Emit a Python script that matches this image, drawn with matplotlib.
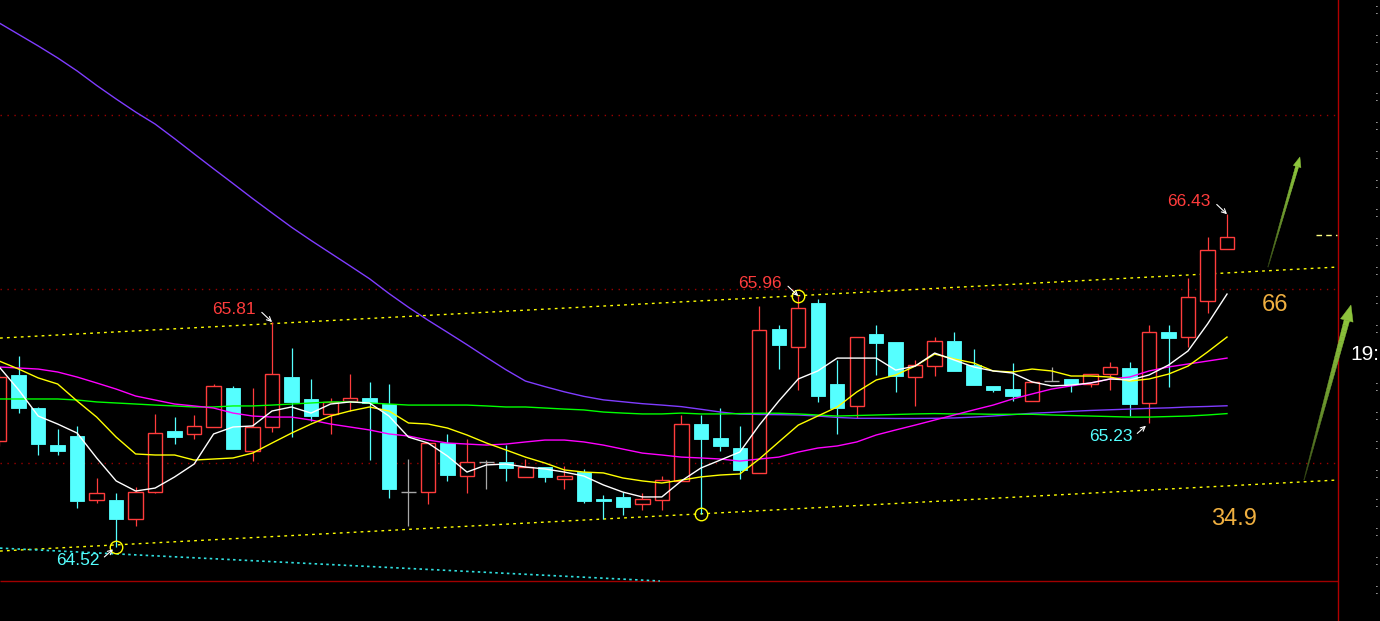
import numpy as np
import matplotlib

matplotlib.use("Agg")
from matplotlib import pyplot as plt
from matplotlib import colors as mcolors
from matplotlib.patches import Polygon

plt.rcParams["font.family"] = ["Liberation Sans", "DejaVu Sans"]

# candle data, oldest first (the first candle is cut by the left edge)
opens = [65.128, 65.506, 65.314, 65.103, 65.155, 64.789, 64.787, 64.676, 64.832, 65.184,
         65.165, 65.209, 65.433, 65.071, 65.205, 65.494, 65.366, 65.280, 65.358, 65.375,
         65.337, 64.832, 64.832, 65.113, 64.924, 65.004, 65.004, 64.921, 64.975, 64.910,
         64.947, 64.793, 64.805, 64.763, 64.786, 64.898, 65.224, 65.144, 65.084, 64.941,
         65.770, 65.668, 65.918, 65.452, 65.329, 65.741, 65.695, 65.493, 65.559, 65.701,
         65.563, 65.443, 65.425, 65.355, 65.470, 65.483, 65.452, 65.510, 65.544, 65.343,
         65.753, 65.722, 65.929, 66.228]
highs = [65.520, 65.615, 65.324, 65.195, 65.213, 64.914, 64.829, 64.864, 65.282, 65.266,
         65.276, 65.454, 65.443, 65.433, 65.810, 65.661, 65.483, 65.372, 65.510, 65.466,
         65.454, 65.023, 65.113, 65.167, 65.140, 65.017, 65.103, 65.023, 64.975, 64.983,
         64.966, 64.816, 64.832, 64.826, 64.925, 65.276, 65.276, 65.316, 65.213, 65.902,
         65.793, 65.960, 65.943, 65.592, 65.722, 65.793, 65.695, 65.592, 65.726, 65.751,
         65.655, 65.443, 65.575, 65.473, 65.552, 65.483, 65.510, 65.582, 65.582, 65.793,
         65.793, 66.065, 66.297, 66.430]
lows = [65.100, 65.289, 65.046, 65.046, 64.743, 64.772, 64.520, 64.640, 64.830, 65.111,
        65.138, 65.205, 65.078, 65.011, 65.180, 65.151, 65.243, 65.165, 65.299, 65.017,
        64.801, 64.640, 64.762, 64.898, 64.829, 64.851, 64.898, 64.921, 64.893, 64.851,
        64.772, 64.676, 64.703, 64.730, 64.730, 64.898, 64.705, 65.071, 64.910, 64.941,
        65.540, 65.420, 65.352, 65.167, 65.257, 65.506, 65.410, 65.329, 65.502, 65.529,
        65.450, 65.410, 65.356, 65.355, 65.470, 65.408, 65.439, 65.421, 65.272, 65.230,
        65.439, 65.668, 65.860, 66.228]
closes = [65.496, 65.318, 65.111, 65.071, 64.783, 64.826, 64.680, 64.832, 65.171, 65.151,
          65.213, 65.443, 65.082, 65.207, 65.510, 65.352, 65.270, 65.352, 65.375, 65.347,
          64.851, 64.832, 65.113, 64.933, 65.004, 65.004, 64.973, 64.975, 64.921, 64.925,
          64.783, 64.783, 64.749, 64.792, 64.901, 65.222, 65.138, 65.099, 64.960, 65.763,
          65.680, 65.889, 65.387, 65.318, 65.722, 65.691, 65.500, 65.561, 65.701, 65.529,
          65.450, 65.420, 65.387, 65.466, 65.470, 65.452, 65.510, 65.550, 65.341, 65.751,
          65.720, 65.952, 66.222, 66.297]

# moving averages
ma_white = [65.552, 65.420, 65.270, 65.224, 65.172, 65.029, 64.897, 64.839, 64.856, 64.920,
            64.994, 65.167, 65.207, 65.213, 65.299, 65.322, 65.287, 65.339, 65.351, 65.345,
            65.270, 65.149, 65.115, 65.040, 64.948, 64.989, 64.994, 64.977, 64.966, 64.948,
            64.925, 64.874, 64.833, 64.805, 64.805, 64.897, 64.971, 65.017, 65.063, 65.218,
            65.356, 65.483, 65.529, 65.603, 65.603, 65.603, 65.534, 65.557, 65.632, 65.592,
            65.552, 65.529, 65.517, 65.466, 65.443, 65.448, 65.460, 65.483, 65.477, 65.506,
            65.563, 65.644, 65.799, 65.971]
ma_yellow = [65.586, 65.540, 65.489, 65.454, 65.356, 65.264, 65.149, 65.052, 65.046, 65.046,
             65.017, 65.023, 65.029, 65.057, 65.115, 65.172, 65.224, 65.270, 65.299, 65.322,
             65.299, 65.230, 65.224, 65.201, 65.161, 65.115, 65.075, 65.034, 65.000, 64.960,
             64.948, 64.943, 64.914, 64.897, 64.885, 64.902, 64.920, 64.931, 64.937, 65.023,
             65.121, 65.218, 65.270, 65.322, 65.408, 65.477, 65.506, 65.557, 65.626, 65.598,
             65.575, 65.529, 65.523, 65.540, 65.529, 65.500, 65.500, 65.494, 65.471, 65.483,
             65.511, 65.557, 65.638, 65.724]
ma_magenta = [65.552, 65.546, 65.540, 65.523, 65.494, 65.460, 65.425, 65.385, 65.362, 65.339,
              65.328, 65.316, 65.287, 65.270, 65.264, 65.264, 65.247, 65.224, 65.207, 65.190,
              65.167, 65.155, 65.132, 65.115, 65.109, 65.103, 65.109, 65.121, 65.132, 65.132,
              65.121, 65.103, 65.080, 65.057, 65.046, 65.034, 65.029, 65.023, 65.011, 65.023,
              65.034, 65.063, 65.086, 65.098, 65.121, 65.161, 65.190, 65.218, 65.247, 65.276,
              65.305, 65.333, 65.368, 65.397, 65.425, 65.443, 65.460, 65.483, 65.494, 65.529,
              65.552, 65.569, 65.586, 65.603]
ma_green = [65.368, 65.368, 65.368, 65.368, 65.362, 65.351, 65.345, 65.339, 65.333, 65.328,
            65.322, 65.322, 65.328, 65.328, 65.333, 65.339, 65.345, 65.351, 65.351, 65.345,
            65.339, 65.333, 65.333, 65.333, 65.333, 65.328, 65.322, 65.322, 65.316, 65.310,
            65.305, 65.293, 65.287, 65.282, 65.282, 65.287, 65.282, 65.282, 65.284, 65.286,
            65.286, 65.282, 65.276, 65.270, 65.273, 65.276, 65.279, 65.282, 65.284, 65.282,
            65.282, 65.280, 65.280, 65.280, 65.276, 65.273, 65.270, 65.267, 65.264, 65.264,
            65.267, 65.270, 65.276, 65.284]
ma_purple = [67.529, 67.463, 67.397, 67.328, 67.253, 67.170, 67.092, 67.017, 66.948, 66.864,
             66.777, 66.691, 66.606, 66.520, 66.437, 66.355, 66.279, 66.206, 66.133, 66.059,
             65.974, 65.895, 65.821, 65.751, 65.680, 65.607, 65.536, 65.471, 65.439, 65.409,
             65.383, 65.363, 65.352, 65.341, 65.333, 65.324, 65.309, 65.293, 65.281, 65.279,
             65.278, 65.276, 65.270, 65.262, 65.257, 65.257, 65.256, 65.256, 65.257, 65.259,
             65.264, 65.270, 65.278, 65.286, 65.291, 65.297, 65.302, 65.306, 65.310, 65.314,
             65.317, 65.322, 65.325, 65.329]

grid_levels = [65.0, 66.0, 67.0]
bottom_level = 64.322
right_edge = 68.69

# drawn lines: (x ends in candle index, price ends)
upper_channel = ([0.04, 68.64], [65.718, 66.126])
lower_channel = ([0.04, 68.64], [64.494, 64.902])
cyan_support = ([0.04, 33.9], [64.511, 64.322])
last_level = ([67.55, 68.65], [66.309, 66.309])

high_marks = [14, 41, 63]
low_marks = [6, 59]
circled = [(6, "low"), (36, "low"), (41, "high")]

trend_arrows = [((65.10, 66.126), (66.74, 66.759), 10, 4.0, 1.6),
                ((66.95, 64.902), (69.36, 65.908), 16, 6.5, 2.8)]
targets = [("66", 65.46, 65.908), ("34.9", 63.35, 64.678)]

RED = "#FF3C3C"
CYAN = "#55FFFF"
GREY = "#A8A8A8"
GRID_RED = "#9A0000"
ORANGE = "#F0B040"
ARROW_GREEN = "#8CC43C"


def trend_arrow(ax, tail, tip, head_len, head_half, shaft_half, colour):
    tr = ax.transData
    inv = tr.inverted()
    p0 = tr.transform(tail)
    p1 = tr.transform(tip)
    d = p1 - p0
    u = d / np.hypot(*d)
    n = np.array([-u[1], u[0]])
    base = p1 - u * head_len
    dark = np.array(mcolors.to_rgb("#1c260a"))
    bright = np.array(mcolors.to_rgb(colour))
    steps = 30
    for k in range(steps):
        t0, t1 = k / steps, (k + 1) / steps
        a = p0 + (base - p0) * t0
        b = p0 + (base - p0) * t1
        w0 = 0.3 + (shaft_half - 0.3) * t0
        w1 = 0.3 + (shaft_half - 0.3) * t1
        col = dark + (bright - dark) * t1 ** 0.5
        pts = [a + n * w0, b + n * w1, b - n * w1, a - n * w0]
        ax.add_patch(Polygon(inv.transform(pts), closed=True, facecolor=col,
                             edgecolor=col, lw=0.3, zorder=7))
    head = [base + n * head_half, p1, base - n * head_half]
    ax.add_patch(Polygon(inv.transform(head), closed=True, facecolor=bright,
                         edgecolor=bright, lw=0.3, zorder=7))


fig = plt.figure(figsize=(13.8, 6.21), dpi=100, facecolor="black")
ax = fig.add_axes([0, 0, 1, 1])
ax.set_facecolor("black")
ax.set_xlim(0.04, 70.85)
ax.set_ylim(64.092, 67.661)
ax.set_axis_off()

o = np.array(opens)
h = np.array(highs)
l = np.array(lows)
c = np.array(closes)
x = np.arange(len(o))

# grid and frame lines
ax.hlines(grid_levels, 0.04, right_edge, colors=GRID_RED, lw=1.0,
          linestyles=(0, (1, 4)), zorder=1)
ax.hlines(bottom_level, 0.04, right_edge, colors="#A00000", lw=1.0, zorder=1)
ax.axvline(right_edge, color="#B00000", lw=1.0, zorder=1)

ax.plot(*upper_channel, color="#FFFF00", lw=1.0, ls=(0, (2, 3)), zorder=2)
ax.plot(*lower_channel, color="#FFFF00", lw=1.0, ls=(0, (2, 3)), zorder=2)
ax.plot(*cyan_support, color="#30E0E0", lw=1.2, ls=(0, (1.5, 2)), zorder=2)
ax.plot(*last_level, color="#FFFF80", lw=1.0, ls=(0, (4, 3)), zorder=2)

# candles
up = c > o
down = c < o
flat = c == o
top = np.maximum(o, c)
bot = np.minimum(o, c)
cols = np.where(up, RED, np.where(down, CYAN, GREY))
ax.vlines(x, top, h, colors=cols, lw=0.9, zorder=3)
ax.vlines(x, l, bot, colors=cols, lw=0.9, zorder=3)
ax.bar(x[up], (c - o)[up], bottom=o[up], width=0.74, facecolor="black",
       edgecolor=RED, linewidth=1.0, zorder=4)
ax.bar(x[down], (o - c)[down], bottom=c[down], width=0.74, facecolor=CYAN,
       edgecolor=CYAN, linewidth=0.6, zorder=4)
ax.hlines(o[flat], x[flat] - 0.37, x[flat] + 0.37, colors=GREY, lw=1.0, zorder=4)

# moving averages
ax.plot(x, ma_purple, color="#7F3CFF", lw=1.0, zorder=5)
ax.plot(x, ma_green, color="#00FF00", lw=1.0, zorder=5)
ax.plot(x, ma_magenta, color="#FF00FF", lw=1.0, zorder=5)
ax.plot(x, ma_yellow, color="#FFFF00", lw=1.0, zorder=5)
ax.plot(x, ma_white, color="#FFFFFF", lw=1.0, zorder=5)

for i, side in circled:
    y = h[i] if side == "high" else l[i]
    ax.plot(i, y, marker="o", ms=9, mfc="none", mec="#FFFF00", mew=1.0, zorder=6)

# extreme labels with small pointer arrows
pointer = dict(arrowstyle="->", color="white", lw=0.8, shrinkA=0, shrinkB=0,
               mutation_scale=8)
for i in high_marks:
    ax.annotate(f"{h[i]:.2f}", xy=(i, h[i]), xytext=(-27.5, 9), textcoords="offset points",
                ha="center", va="center", color=RED, fontsize=12.5, zorder=8)
    ax.annotate("", xy=(i, h[i]), xytext=(-7.4, 7.0), textcoords="offset points",
                arrowprops=pointer, zorder=8)
for i in low_marks:
    ax.annotate(f"{l[i]:.2f}", xy=(i, l[i]), xytext=(-27.5, -9.8), textcoords="offset points",
                ha="center", va="center", color=CYAN, fontsize=12.5, zorder=8)
    ax.annotate("", xy=(i, l[i]), xytext=(-8.5, -7.5), textcoords="offset points",
                arrowprops=dict(pointer, shrinkB=3), zorder=8)

for tail, tip, hl, hh, sh in trend_arrows:
    trend_arrow(ax, tail, tip, hl, hh, sh, ARROW_GREEN)

for txt, xi, yi in targets:
    ax.text(xi, yi, txt, color=ORANGE, fontsize=17, ha="center", va="center", zorder=8)

# cut-off time scale at the right edge
ax.text(69.31, 65.621, "19:", color="white", fontsize=15, ha="left", va="center", zorder=8)
for py in np.arange(10, 600, 29):
    if abs(py - 355) < 15:
        continue
    ax.text(0.9975, 1 - py / 621, ":", transform=ax.transAxes, color="#C8C8C8",
            fontsize=10, ha="center", va="center", zorder=8)

fig.savefig("out.png", dpi=100, facecolor="black")
plt.close(fig)
